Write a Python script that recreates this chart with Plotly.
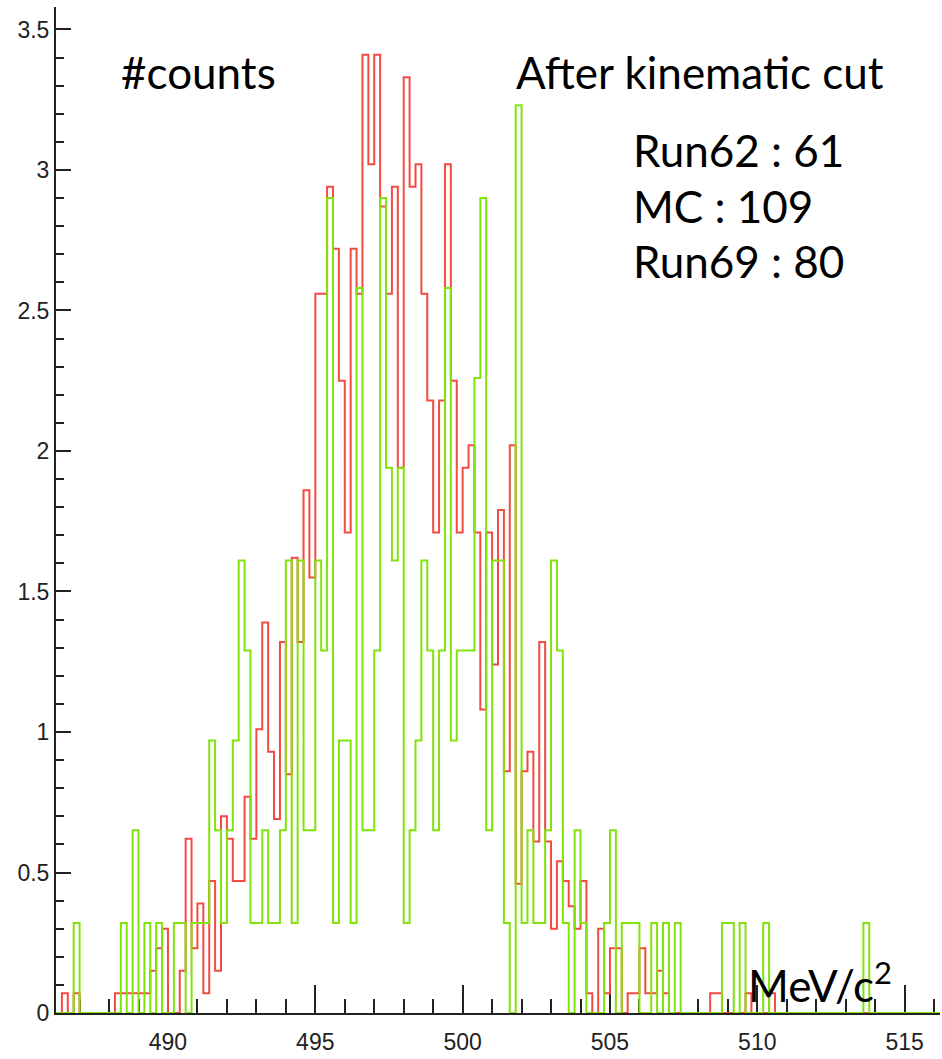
import numpy as np
import plotly.graph_objects as go

# ---- data ----
bin_low = 486.2          # lower edge of the first bin (MeV/c^2)
bin_width = 0.2          # bin width (MeV/c^2)

# Run62 (red)
red_values = [
    0, 0.07, 0, 0.07, 0, 0, 0, 0, 0, 0,
    0.07, 0.07, 0.07, 0.07, 0.07, 0.07, 0.15, 0.23, 0.30, 0,
    0, 0.15, 0.62, 0.23, 0.39, 0.07, 0.47, 0.15, 0.70, 0.62,
    0.47, 0.47, 0.77, 0.62, 1.01, 1.39, 0.93, 0.69, 1.32, 0.85,
    1.62, 1.32, 1.86, 1.55, 2.56, 2.56, 2.94, 2.72, 2.25, 1.71,
    2.72, 2.56, 3.41, 3.02, 3.41, 2.87, 2.56, 2.94, 1.94, 3.33,
    2.94, 3.02, 2.56, 2.18, 1.71, 2.18, 3.02, 2.25, 1.71, 1.94,
    2.02, 1.71, 1.08, 1.71, 1.24, 1.79, 0.86, 2.02, 0.46, 0.86,
    0.93, 0.61, 1.32, 0.61, 0.30, 0.54, 0.47, 0.38, 0.30, 0.47,
    0.07, 0, 0.30, 0.07, 0.23, 0.23, 0, 0.07, 0.07, 0.23,
    0.07, 0.07, 0.15, 0.07, 0, 0, 0, 0, 0, 0,
    0, 0.07, 0.07, 0, 0, 0, 0, 0.07, 0, 0,
    0, 0.07, 0, 0, 0, 0, 0, 0, 0, 0,
    0, 0, 0, 0, 0, 0, 0, 0, 0, 0,
    0, 0, 0, 0, 0, 0, 0, 0, 0, 0,
]

# Run69 (green)
green_values = [
    0, 0, 0, 0.32, 0, 0, 0, 0, 0, 0,
    0, 0.32, 0, 0.65, 0, 0.32, 0, 0.32, 0, 0,
    0.32, 0.32, 0, 0.32, 0.32, 0.32, 0.97, 0.65, 0.32, 0.65,
    0.97, 1.61, 1.29, 0.32, 0.32, 0.65, 0.32, 0.32, 0.65, 1.61,
    0.32, 1.61, 0.65, 0.65, 1.61, 1.29, 2.90, 0.32, 0.97, 0.97,
    0.32, 2.58, 0.65, 0.65, 1.29, 2.90, 1.94, 1.61, 1.94, 0.32,
    0.65, 0.97, 1.61, 1.29, 0.65, 1.29, 2.58, 0.97, 1.29, 1.29,
    1.29, 2.26, 2.90, 0.65, 1.61, 1.61, 0.32, 0, 3.23, 0.32,
    0.65, 0.32, 0.32, 0.65, 1.61, 1.29, 0.32, 0, 0.65, 0.32,
    0, 0, 0, 0.32, 0.65, 0, 0.32, 0.32, 0.32, 0,
    0, 0.32, 0, 0.32, 0, 0.32, 0, 0, 0, 0,
    0, 0, 0, 0.32, 0.32, 0, 0.32, 0, 0, 0,
    0.32, 0, 0, 0, 0, 0, 0, 0, 0, 0,
    0, 0, 0, 0, 0, 0, 0, 0.32, 0, 0,
    0, 0, 0, 0, 0, 0, 0, 0, 0, 0,
]

legend_lines = ["Run62 : 61", "MC : 109", "Run69 : 80"]
y_title = "#counts"
plot_title = "After kinematic cut"
x_unit = "MeV/c<sup>2</sup>"

# ---- figure ----
n_bins = len(red_values)
edges = bin_low + bin_width * np.arange(n_bins + 1)
x_lo, x_hi = edges[0], edges[-1]


def step(vals):
    return list(vals) + [vals[-1]]


fig = go.Figure()
fig.add_trace(go.Scatter(x=edges, y=step(red_values), mode="lines",
                         line=dict(color="#f24b42", width=2, shape="hv"),
                         cliponaxis=False, showlegend=False))
fig.add_trace(go.Scatter(x=edges, y=step(green_values), mode="lines",
                         line=dict(color="#80e30a", width=2, shape="hv"),
                         cliponaxis=False, showlegend=False))

txt_font = dict(family="Lato", size=44, color="black")
fig.add_annotation(x=488.35, y=3.35, text=y_title, showarrow=False,
                   xanchor="left", yanchor="middle", font=txt_font)
fig.add_annotation(x=501.75, y=3.35, text=plot_title, showarrow=False,
                   xanchor="left", yanchor="middle", font=txt_font)
for i, line in enumerate(legend_lines):
    fig.add_annotation(x=505.7, y=3.07 - i * 0.197, text=line, showarrow=False,
                       xanchor="left", yanchor="middle", font=txt_font)
fig.add_annotation(x=509.6, y=0.11, text=x_unit, showarrow=False,
                   xanchor="left", yanchor="middle", font=txt_font)

tick_font = dict(family="Liberation Sans", size=23, color="#222222")
fig.update_layout(
    width=942, height=1059,
    margin=dict(l=56, r=2, t=7, b=46),
    paper_bgcolor="white", plot_bgcolor="white",
    xaxis=dict(range=[x_lo, x_hi], showgrid=False, zeroline=False,
               showline=True, linecolor="#222222", linewidth=2,
               ticks="inside", ticklen=28, tickwidth=2, tickcolor="#222222",
               tick0=490, dtick=5, tickfont=tick_font, layer="below traces",
               ticklabelstandoff=7, automargin=False,
               minor=dict(ticks="inside", ticklen=14, tickwidth=2,
                          tickcolor="#222222", dtick=1, tick0=490, showgrid=False)),
    yaxis=dict(range=[0, 3.58], showgrid=False, zeroline=False,
               showline=True, linecolor="#222222", linewidth=2,
               ticks="inside", ticklen=15, tickwidth=2, tickcolor="#222222",
               tick0=0, dtick=0.5, tickfont=tick_font, layer="below traces",
               ticklabelstandoff=0, automargin=False,
               minor=dict(ticks="inside", ticklen=8, tickwidth=2,
                          tickcolor="#222222", dtick=0.1, showgrid=False)),
)

fig.write_html("out.html",
               config={"displayModeBar": False, "staticPlot": True},
               post_script="document.body.style.margin='0';document.body.style.overflow='hidden';")
